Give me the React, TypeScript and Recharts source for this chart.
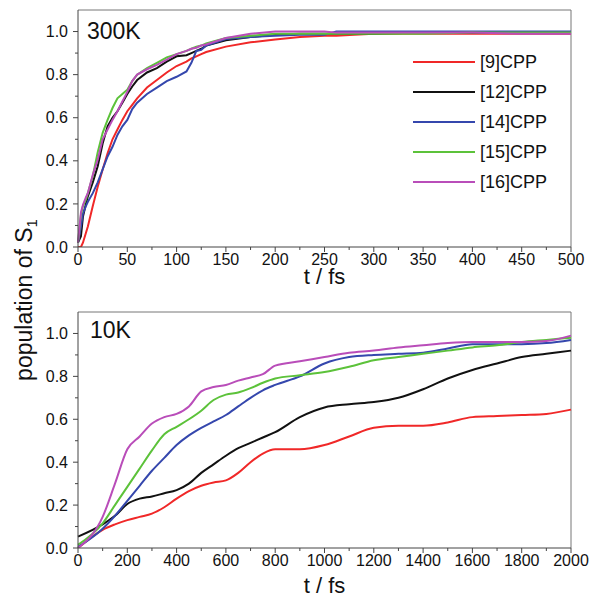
import React from 'react';
import { LineChart, Line, XAxis, YAxis, ReferenceLine, Legend } from 'recharts';

// series names and colours
const SERIES = ['[9]CPP', '[12]CPP', '[14]CPP', '[15]CPP', '[16]CPP'];
const COLORS = ['#f02828', '#111111', '#3547ad', '#5cc23a', '#b94db9'];

// 300K panel
const T300 = [0, 3, 5, 8, 10, 15, 20, 25, 30, 35, 40, 45, 50, 55, 60, 70, 80, 90, 100, 110, 115, 120, 125, 130, 150, 175, 200, 225, 250, 262, 280, 300, 350, 400, 450, 500];
const CPP9_300 = [0, 0, 0.02, 0.065, 0.095, 0.19, 0.28, 0.36, 0.435, 0.5, 0.545, 0.59, 0.63, 0.66, 0.69, 0.74, 0.775, 0.81, 0.84, 0.86, 0.875, 0.885, 0.895, 0.905, 0.93, 0.95, 0.963, 0.975, 0.98, 0.98, 0.985, 0.99, 0.99, 0.99, 0.99, 0.99];
const CPP12_300 = [0.02, 0.05, 0.14, 0.2, 0.235, 0.3, 0.375, 0.48, 0.56, 0.6, 0.63, 0.67, 0.71, 0.745, 0.775, 0.81, 0.83, 0.86, 0.885, 0.89, 0.9, 0.91, 0.92, 0.935, 0.96, 0.975, 0.985, 0.99, 0.99, 0.99, 0.99, 0.99, 0.995, 0.995, 0.995, 0.995];
const CPP14_300 = [0.02, 0.095, 0.155, 0.19, 0.21, 0.25, 0.3, 0.36, 0.42, 0.465, 0.52, 0.56, 0.59, 0.64, 0.67, 0.71, 0.74, 0.77, 0.79, 0.815, 0.855, 0.91, 0.915, 0.935, 0.965, 0.975, 0.98, 0.985, 0.985, 1.0, 1.0, 1.0, 1.0, 1.0, 1.0, 1.0];
const CPP15_300 = [0.02, 0.15, 0.19, 0.22, 0.25, 0.33, 0.44, 0.53, 0.59, 0.645, 0.69, 0.71, 0.73, 0.77, 0.8, 0.83, 0.855, 0.88, 0.895, 0.91, 0.92, 0.93, 0.935, 0.945, 0.97, 0.98, 0.99, 0.99, 0.99, 0.99, 0.99, 0.99, 0.99, 0.995, 0.995, 0.995];
const CPP16_300 = [0.02, 0.16, 0.195, 0.23, 0.25, 0.335, 0.405, 0.5, 0.545, 0.59, 0.63, 0.675, 0.72, 0.77, 0.8, 0.825, 0.845, 0.87, 0.895, 0.91, 0.92, 0.925, 0.935, 0.94, 0.97, 0.99, 1.0, 1.0, 1.0, 0.995, 0.995, 0.995, 0.995, 0.995, 0.99, 0.99];

// 10K panel
const T10 = [0, 100, 150, 200, 250, 300, 350, 400, 450, 500, 550, 600, 650, 700, 750, 800, 900, 1000, 1100, 1200, 1300, 1400, 1500, 1600, 1700, 1800, 1900, 2000];
const CPP9_10 = [0, 0.085, 0.11, 0.13, 0.145, 0.16, 0.19, 0.23, 0.265, 0.29, 0.305, 0.315, 0.35, 0.4, 0.44, 0.46, 0.46, 0.48, 0.52, 0.56, 0.57, 0.57, 0.585, 0.61, 0.615, 0.62, 0.625, 0.645];
const CPP12_10 = [0.053, 0.11, 0.15, 0.205, 0.23, 0.24, 0.255, 0.27, 0.3, 0.35, 0.39, 0.43, 0.465, 0.49, 0.515, 0.54, 0.61, 0.655, 0.67, 0.68, 0.7, 0.74, 0.79, 0.83, 0.86, 0.89, 0.905, 0.92];
const CPP14_10 = [0.005, 0.09, 0.15, 0.22, 0.29, 0.36, 0.42, 0.48, 0.525, 0.56, 0.59, 0.62, 0.66, 0.7, 0.735, 0.76, 0.8, 0.86, 0.89, 0.9, 0.905, 0.91, 0.93, 0.95, 0.95, 0.95, 0.955, 0.97];
const CPP15_10 = [0.015, 0.115, 0.2, 0.285, 0.37, 0.455, 0.53, 0.565, 0.6, 0.64, 0.69, 0.715, 0.725, 0.745, 0.77, 0.79, 0.805, 0.82, 0.845, 0.875, 0.89, 0.905, 0.92, 0.935, 0.945, 0.96, 0.97, 0.98];
const CPP16_10 = [0, 0.145, 0.3, 0.46, 0.52, 0.58, 0.61, 0.625, 0.66, 0.73, 0.75, 0.76, 0.78, 0.795, 0.81, 0.85, 0.87, 0.89, 0.91, 0.92, 0.935, 0.945, 0.955, 0.96, 0.96, 0.96, 0.965, 0.99];

// ticks (majors get labels, the rest are minor marks)
const X300_TICKS = [0, 25, 50, 75, 100, 125, 150, 175, 200, 225, 250, 275, 300, 325, 350, 375, 400, 425, 450, 475, 500];
const X10_TICKS = [0, 100, 200, 300, 400, 500, 600, 700, 800, 900, 1000, 1100, 1200, 1300, 1400, 1500, 1600, 1700, 1800, 1900, 2000];
const Y_TICKS = [0, 0.1, 0.2, 0.3, 0.4, 0.5, 0.6, 0.7, 0.8, 0.9, 1.0];

const build = (ts: number[], cols: number[][]) =>
  ts.map((t, i) => {
    const row: any = { t };
    SERIES.forEach((s, k) => (row[s] = cols[k][i]));
    return row;
  });

const data300 = build(T300, [CPP9_300, CPP12_300, CPP14_300, CPP15_300, CPP16_300]);
const data10 = build(T10, [CPP9_10, CPP12_10, CPP14_10, CPP15_10, CPP16_10]);

const FONT = '"Liberation Sans", Arial, sans-serif';
const AXIS = '#444';

const makeXTick = (step: number) => (props: any) => {
  const { x, y, payload } = props;
  const v = payload.value;
  const major = v % step === 0;
  const y0 = y - 7;
  return (
    <g>
      <line x1={x} x2={x} y1={y0} y2={y0 + (major ? 5 : 3)} stroke={AXIS} />
      {major && (
        <text x={x} y={y} dy="0.71em" textAnchor="middle" fontSize={16} fill="#111" fontFamily={FONT}>
          {v}
        </text>
      )}
    </g>
  );
};

const YTick = (props: any) => {
  const { x, y, payload } = props;
  const v = payload.value;
  const major = Math.round(v * 10) % 2 === 0;
  const x0 = x + 10;
  return (
    <g>
      <line x1={x0} x2={x0 - (major ? 5 : 3)} y1={y} y2={y} stroke={AXIS} />
      {major && (
        <text x={x} y={y} dy="0.355em" textAnchor="end" fontSize={16} fill="#111" fontFamily={FONT}>
          {v.toFixed(1)}
        </text>
      )}
    </g>
  );
};

const LegendBox = () => (
  <svg width={170} height={152}>
    {SERIES.map((s, i) => (
      <g key={s}>
        <line x1={3} x2={65} y1={15 + i * 30} y2={15 + i * 30} stroke={COLORS[i]} strokeWidth={2} />
        <text x={70} y={15 + i * 30} dy="0.355em" fontSize={18} fill="#111" fontFamily={FONT}>
          {s}
        </text>
      </g>
    ))}
  </svg>
);

const Panel = ({ data, xMax, ticks, step, height, top, bottomH, labelOffset, legend }: any) => (
  <LineChart width={591} height={height} data={data} margin={{ top, right: 20, left: 0, bottom: 0 }}>
    <XAxis
      dataKey="t"
      type="number"
      domain={[0, xMax]}
      ticks={ticks}
      interval={0}
      tickSize={5}
      tickMargin={2}
      tickLine={false}
      tick={makeXTick(step)}
      height={bottomH}
      stroke={AXIS}
      label={{ value: 't / fs', position: 'insideBottom', offset: labelOffset, fontSize: 22, fill: '#111', fontFamily: FONT }}
    />
    <YAxis
      type="number"
      domain={[0, 1.1]}
      ticks={Y_TICKS}
      interval={0}
      allowDataOverflow
      width={78}
      tickSize={5}
      tickMargin={5}
      tickLine={false}
      tick={YTick}
      stroke={AXIS}
    />
    <ReferenceLine y={1.1} stroke="#777" />
    <ReferenceLine x={xMax} stroke="#777" />
    {SERIES.map((s, i) => (
      <Line
        key={s}
        dataKey={s}
        type={legend ? 'linear' : 'monotone'}
        stroke={COLORS[i]}
        strokeWidth={2}
        dot={false}
        isAnimationActive={false}
      />
    ))}
    {legend && (
      <Legend
        layout="vertical"
        align="center"
        verticalAlign="middle"
        content={LegendBox}
        wrapperStyle={{ left: 410, top: 47, width: 170 }}
      />
    )}
  </LineChart>
);

export default function App() {
  return (
    <div style={{ position: 'absolute', left: 0, top: 0, width: 591, height: 598, background: '#fff', fontFamily: FONT }}>
      <div style={{ position: 'absolute', left: 0, top: 0 }}>
        <Panel data={data300} xMax={500} ticks={X300_TICKS} step={50} height={290} top={10} bottomH={43} labelOffset={6} legend />
      </div>
      <div style={{ position: 'absolute', left: 0, top: 290 }}>
        <Panel data={data10} xMax={2000} ticks={X10_TICKS} step={200} height={308} top={22} bottomH={50} labelOffset={5} legend={false} />
      </div>
      <svg width={591} height={598} style={{ position: 'absolute', left: 0, top: 0, pointerEvents: 'none' }}>
        <text x={87} y={39} fontSize={23} fill="#111" fontFamily={FONT}>300K</text>
        <text x={90} y={338} fontSize={23} fill="#111" fontFamily={FONT}>10K</text>
        <text x={32} y={300} transform="rotate(-90 32 300)" textAnchor="middle" fontSize={23} fill="#111" fontFamily={FONT}>
          population of S<tspan dy={5} fontSize={15}>1</tspan>
        </text>
      </svg>
    </div>
  );
}
